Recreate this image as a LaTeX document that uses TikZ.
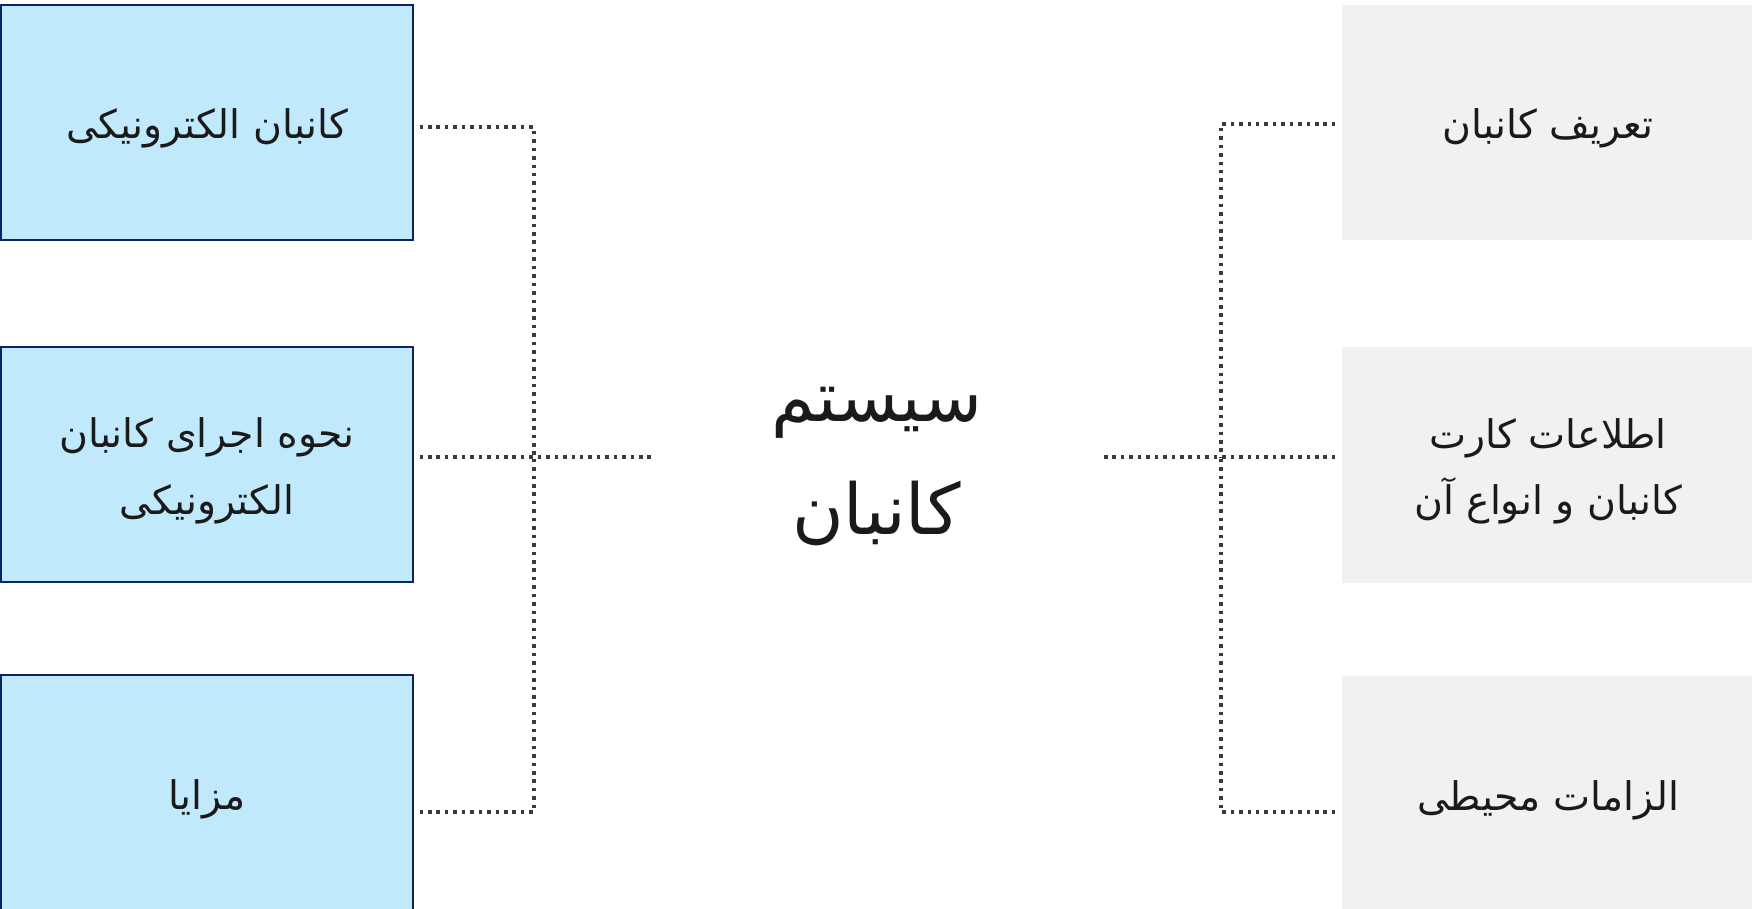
\documentclass[tikz,border=0pt]{standalone}
\usepackage{fontspec}
\usepackage{xcolor}
\usetikzlibrary{calc,positioning}
\TeXXeTstate=1
\newfontfamily\arabicfont[Script=Arabic]{DejaVu Sans}
\definecolor{ink}{HTML}{1A1A1A}
\definecolor{linkGray}{HTML}{3A3A3A}
\definecolor{topicBlue}{HTML}{C1E9FC}
\definecolor{topicNavy}{HTML}{0B2465}
\definecolor{noteGray}{HTML}{F1F1F1}
% one right-to-left line, set a little lower than its box
\newcommand{\rtlline}[1]{\raisebox{-1.8pt}[\height][\depth]{\beginR#1\endR}}
\tikzset{
  topic card/.style={
    draw=topicNavy,
    fill=topicBlue,
    line width=0.55pt,
    minimum width=4.11cm,
    minimum height=2.35cm,
    inner sep=0pt,
    align=center,
    font=\arabicfont\fontsize{11.2}{19}\selectfont,
    text=ink
  },
  note card/.style={
    topic card,
    draw=none,
    fill=noteGray
  },
  hub title/.style={
    minimum width=4.45cm,
    inner sep=0pt,
    align=center,
    font=\arabicfont\fontsize{20}{32}\selectfont,
    text=ink
  },
  dot link/.style={
    draw=linkGray,
    line width=1pt,
    dash pattern=on 1pt off 1.4pt
  }
}

\begin{document}
\begin{tikzpicture}[x=0.01cm,y=-0.01cm]
  \path[use as bounding box,fill=white] (0,0) rectangle (1752,908);
  \clip (0,0) rectangle (1752,908);

  % left column
  \node[topic card] (electronic) at (207,122.5) {\rtlline{کانبان الکترونیکی}};
  \node[topic card] (howto) at (207,464.5) {
    \rtlline{نحوه اجرای کانبان}\\
    \rtlline{الکترونیکی}
  };
  \node[topic card] (benefits) at (207,792.5) {\rtlline{مزایا}};

  % right column
  \node[note card] (definition) at (1548,122.5) {\rtlline{تعریف کانبان}};
  \node[note card] (cardinfo) at (1548,465) {
    \rtlline{اطلاعات کارت}\\
    \rtlline{کانبان و انواع آن}
  };
  \node[note card] (environment) at (1548,793.5) {\rtlline{الزامات محیطی}};

  % centre
  \node[hub title] (kanban) at (876.5,460) {
    \rtlline{سیستم}\\
    \rtlline{کانبان}
  };

  \coordinate (left-hub) at (534,457);
  \coordinate (right-hub) at (1221,457);

  \draw[dot link] ([shift={(6,4.5)}]electronic.east) -| (left-hub);
  \draw[dot link] ([shift={(6,19.5)}]benefits.east) -| (left-hub);
  \draw[dot link] ([shift={(6,-7.5)}]howto.east) -- (left-hub) -- (left-hub -| kanban.west);

  \draw[dot link] ([shift={(-6,1.5)}]definition.west) -| (right-hub);
  \draw[dot link] ([shift={(-6,18.5)}]environment.west) -| (right-hub);
  \draw[dot link] ([shift={(-6,-8)}]cardinfo.west) -- (right-hub) -- (right-hub -| kanban.east);
\end{tikzpicture}
\end{document}
